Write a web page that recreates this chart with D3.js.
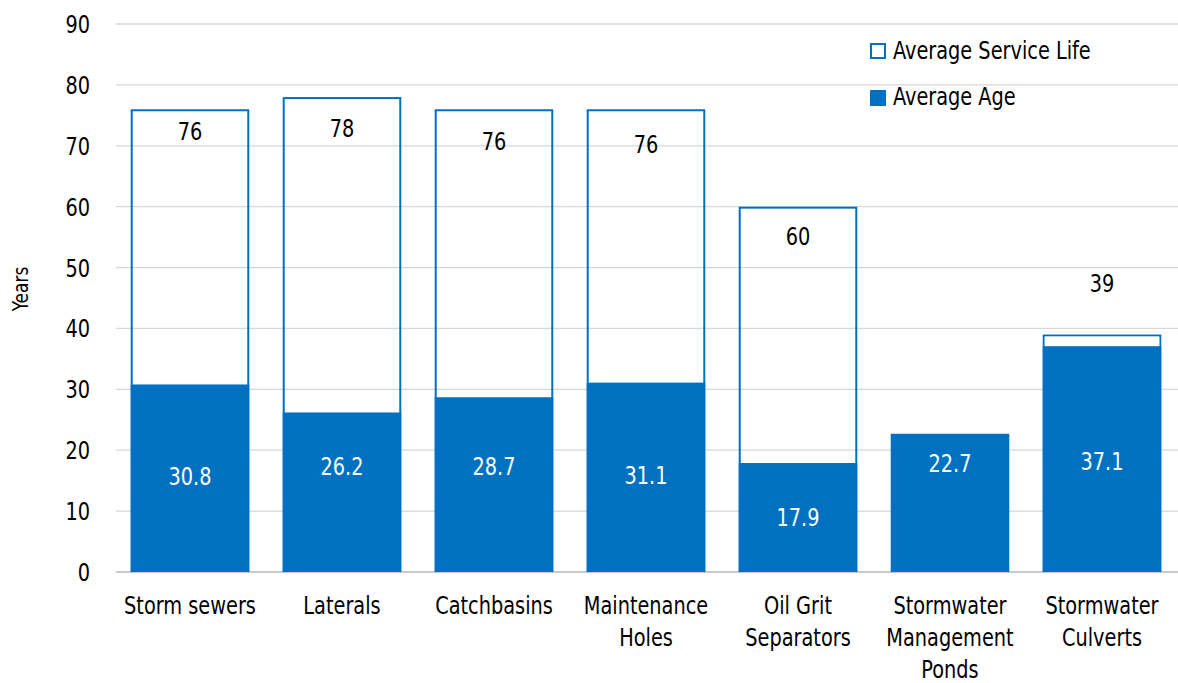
<!DOCTYPE html>
<html>
<head>
<meta charset="utf-8">
<script src="https://cdn.jsdelivr.net/npm/d3@7"></script>
<style>
  html, body { margin: 0; padding: 0; background: #fff; }
  svg text { font-family: "DejaVu Sans Condensed", "Liberation Sans Narrow", sans-serif; fill: #000; }
</style>
</head>
<body>
<svg id="chart" width="1178" height="683"></svg>
<script>
// Stormwater asset categories (line-wrapped names)
const categories = [
  ["Storm sewers"],
  ["Laterals"],
  ["Catchbasins"],
  ["Maintenance", "Holes"],
  ["Oil Grit", "Separators"],
  ["Stormwater", "Management", "Ponds"],
  ["Stormwater", "Culverts"]
];
const serviceLife = [76, 78, 76, 76, 60, null, 39];
const averageAge  = [30.8, 26.2, 28.7, 31.1, 17.9, 22.7, 37.1];
// Where each data label sits, in years on the value axis
const lifeLabelAt = [72.4, 72.9, 70.8, 70.3, 55.2, null, 47.5];
const ageLabelAt  = [15.8, 17.4, 17.4, 15.9, 9.0, 17.9, 18.2];
const yTicks = [0, 10, 20, 30, 40, 50, 60, 70, 80, 90];

const blue = "#0070C0";
const FS = 25;        // font size
const SQUEEZE = 0.86; // horizontal narrowing for a tall, condensed look
const svg = d3.select("#chart");

// Places a narrowed text at (px, py); lines stack downward by lineH
function label(parent, px, py, lines, opts = {}) {
  const g = parent.append("g")
    .attr("transform", `translate(${px},${py}) ${opts.rotate ? `rotate(${opts.rotate})` : ""} scale(${SQUEEZE},1)`);
  const t = g.append("text")
    .attr("text-anchor", opts.anchor || "middle")
    .attr("font-size", opts.size || FS);
  if (opts.fill) t.style("fill", opts.fill);
  [].concat(lines).forEach((ln, k) => {
    t.append("tspan")
      .attr("x", 0)
      .attr("y", k * (opts.lineH || 0))
      .attr("dy", opts.dy || "0")
      .text(ln);
  });
  return g;
}

const x = d3.scaleBand()
  .domain(d3.range(categories.length))
  .range([114, 1178])
  .paddingInner(0.22)
  .paddingOuter(0.11);

const y = d3.scaleLinear().domain([0, 90]).range([572, 24]);

// Gridlines
svg.append("g").selectAll("line")
  .data(yTicks)
  .join("line")
  .attr("x1", 116).attr("x2", 1178)
  .attr("y1", d => y(d)).attr("y2", d => y(d))
  .attr("stroke", d => d === 0 ? "#c8c8c8" : "#d6d6d6")
  .attr("stroke-width", d => d === 0 ? 2 : 1.3);

// Y axis tick labels
const gy = svg.append("g");
yTicks.forEach(v => label(gy, 90, y(v), String(v), { anchor: "end", dy: "0.36em" }));

// Axis title
label(svg, 28, 289, "Years", { rotate: -90, size: 22 });

const idx = d3.range(categories.length);

// Average age (filled)
svg.append("g").selectAll("rect")
  .data(idx)
  .join("rect")
  .attr("x", i => x(i))
  .attr("width", x.bandwidth())
  .attr("y", i => y(averageAge[i]))
  .attr("height", i => y(0) - y(averageAge[i]))
  .attr("fill", blue);

// Average service life (outline)
svg.append("g").selectAll("rect")
  .data(idx.filter(i => serviceLife[i] != null))
  .join("rect")
  .attr("x", i => x(i) + 1)
  .attr("width", x.bandwidth() - 2)
  .attr("y", i => y(serviceLife[i]) + 1)
  .attr("height", i => y(0) - y(serviceLife[i]) - 2)
  .attr("fill", "none")
  .attr("stroke", blue)
  .attr("stroke-width", 2);

// Hollow remainder above the age fill where the two values are close
svg.append("g").selectAll("rect")
  .data(idx.filter(i => serviceLife[i] != null && serviceLife[i] - averageAge[i] < 3))
  .join("rect")
  .attr("x", i => x(i) + 2)
  .attr("width", x.bandwidth() - 4)
  .attr("y", i => y(serviceLife[i]) + 2)
  .attr("height", i => Math.max(0, y(averageAge[i]) - y(serviceLife[i]) - 2))
  .attr("fill", "#fff");

// Service life labels
const gl = svg.append("g");
idx.filter(i => serviceLife[i] != null).forEach(i =>
  label(gl, x(i) + x.bandwidth() / 2, y(lifeLabelAt[i]), String(serviceLife[i]), { dy: "0.36em" }));

// Average age labels
const ga = svg.append("g");
idx.forEach(i =>
  label(ga, x(i) + x.bandwidth() / 2, y(ageLabelAt[i]), averageAge[i].toFixed(1), { dy: "0.36em", fill: "#fff" }));

// Category labels
const gc = svg.append("g");
idx.forEach(i =>
  label(gc, x(i) + x.bandwidth() / 2, 614, categories[i], { lineH: 32 }));

// Legend
const legend = svg.append("g").attr("transform", "translate(870,0)");
legend.append("rect")
  .attr("x", 1).attr("y", 44).attr("width", 14).attr("height", 14)
  .attr("fill", "#fff").attr("stroke", blue).attr("stroke-width", 2);
label(legend, 23, 59, "Average Service Life", { anchor: "start" });
legend.append("rect")
  .attr("x", 0).attr("y", 90).attr("width", 16).attr("height", 16)
  .attr("fill", blue);
label(legend, 23, 105, "Average Age", { anchor: "start" });
</script>
</body>
</html>
